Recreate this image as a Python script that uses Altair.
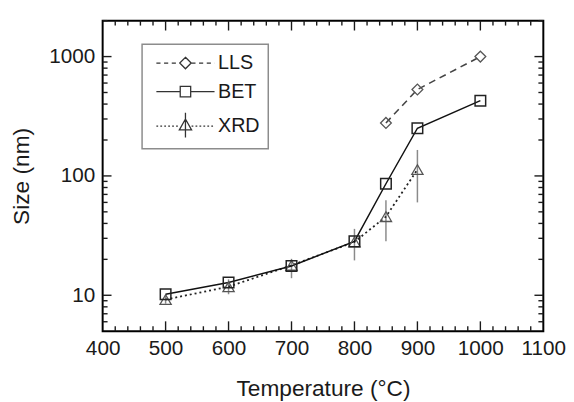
import altair as alt
import pandas as pd

# ---------------- data ----------------
lls_temp = [850, 900, 1000]
lls_size = [278, 530, 1000]

bet_temp = [500, 600, 700, 800, 850, 900, 1000]
bet_size = [10.2, 12.8, 17.6, 28.3, 86, 251, 427]

xrd_temp = [500, 600, 700, 800, 850, 900]
xrd_size = [9.2, 11.8, 17.8, 28.0, 45.6, 113]
xrd_low = [8.5, 10.2, 13.9, 19.6, 28.3, 60]
xrd_high = [10.0, 13.6, 20.2, 36.0, 62.5, 165]

series_names = ["LLS", "BET", "XRD"]

x_major = [400, 500, 600, 700, 800, 900, 1000, 1100]
x_minor = [v for v in range(420, 1100, 20) if v % 100 != 0]
y_major = [10, 100, 1000]
y_minor = [6, 7, 8, 9] + [m * 10 for m in range(2, 10)] + [m * 100 for m in range(2, 10)] + [2000]

lls = pd.DataFrame({"t": lls_temp, "s": lls_size})
bet = pd.DataFrame({"t": bet_temp, "s": bet_size})
xrd = pd.DataFrame({"t": xrd_temp, "s": xrd_size, "lo": xrd_low, "hi": xrd_high})
leg = pd.DataFrame({"series": series_names})
xmaj = pd.DataFrame({"t": x_major[1:-1]})
xmin = pd.DataFrame({"t": x_minor})
ymaj = pd.DataFrame({"s": y_major})
ymin = pd.DataFrame({"s": y_minor})

FONT = "Liberation Sans"
INK = "#1a1a1a"
W, H = 447, 315
XMAJ, XMIN, YMAJ, YMIN = 10, 5, 9, 5

xs = alt.Scale(domain=[400, 1100], nice=False, zero=False)
ys = alt.Scale(type="log", domain=[5, 2000], nice=False)


# ---------------- legend symbol paths (unit = 10 px) ----------------
def dashed(x0, x1, dash, gap):
    parts = []
    x = x0
    while x < x1 - 1e-9:
        e = min(x + dash, x1)
        parts.append(f"M{x:.3f},0L{e:.3f},0")
        x = e + gap
    return "".join(parts)


half = 2.95
p_lls = (dashed(-half, -0.6, 0.42, 0.36) + dashed(0.6, half, 0.42, 0.36)
         + "M0,-0.58L0.58,0L0,0.58L-0.58,0Z")
p_bet = (f"M{-half},0L-0.53,0M0.53,0L{half},0"
         + "M-0.53,-0.53L0.53,-0.53L0.53,0.53L-0.53,0.53Z")
p_xrd = (dashed(-half, -0.62, 0.18, 0.22) + dashed(0.62, half, 0.18, 0.22)
         + "M0,-0.72L0.62,0.38L-0.62,0.38Z" + "M0,-1.35L0,1.15")

# ---------------- axes: labels + titles ----------------
axes_layer = alt.Chart(bet).mark_point(opacity=0).encode(
    x=alt.X("t:Q", scale=xs, axis=alt.Axis(
        orient="bottom", values=x_major, ticks=False, tickSize=0, domain=False, grid=False,
        labelFont=FONT, labelFontSize=21, labelColor=INK, labelPadding=7,
        labelFlush=False, labelOverlap=False, format="d",
        title="Temperature (°C)", titleFont=FONT, titleFontSize=23,
        titleFontWeight="normal", titleColor=INK, titlePadding=19)),
    y=alt.Y("s:Q", scale=ys, axis=alt.Axis(
        orient="left", values=y_major, ticks=False, tickSize=0, domain=False, grid=False,
        labelFont=FONT, labelFontSize=21, labelColor=INK, labelPadding=8,
        labelFlush=False, labelOverlap=False, format="d",
        title="Size (nm)", titleFont=FONT, titleFontSize=23,
        titleFontWeight="normal", titleColor=INK, titlePadding=15)),
)

# ---------------- inside ticks on all four sides ----------------
def xticks(df, length):
    bottom = alt.Chart(df).mark_rule(color=INK, strokeWidth=1.4).encode(
        x=alt.X("t:Q", scale=xs, axis=None),
        y=alt.value(H), y2=alt.value(H - length))
    top = alt.Chart(df).mark_rule(color=INK, strokeWidth=1.4).encode(
        x=alt.X("t:Q", scale=xs, axis=None),
        y=alt.value(0), y2=alt.value(length))
    return [bottom, top]


def yticks(df, length):
    left = alt.Chart(df).mark_rule(color=INK, strokeWidth=1.4).encode(
        y=alt.Y("s:Q", scale=ys, axis=None),
        x=alt.value(0), x2=alt.value(length))
    right = alt.Chart(df).mark_rule(color=INK, strokeWidth=1.4).encode(
        y=alt.Y("s:Q", scale=ys, axis=None),
        x=alt.value(W), x2=alt.value(W - length))
    return [left, right]


tick_layers = xticks(xmaj, XMAJ) + xticks(xmin, XMIN) + yticks(ymaj, YMAJ) + yticks(ymin, YMIN)


def enc(ch):
    return ch.encode(
        x=alt.X("t:Q", scale=xs, axis=None),
        y=alt.Y("s:Q", scale=ys, axis=None),
    )


err = alt.Chart(xrd).mark_rule(color="#8a8a8a", strokeWidth=1.5).encode(
    x=alt.X("t:Q", scale=xs, axis=None),
    y=alt.Y("lo:Q", scale=ys, axis=None),
    y2="hi:Q",
)

lls_line = enc(alt.Chart(lls).mark_line(color="#444", strokeWidth=1.6, strokeDash=[7, 5]))
xrd_line = enc(alt.Chart(xrd).mark_line(color="#222", strokeWidth=1.8, strokeDash=[2, 3]))
bet_line = enc(alt.Chart(bet).mark_line(color="#111", strokeWidth=1.5))

lls_pts = enc(alt.Chart(lls).mark_point(shape="diamond", size=120, filled=False,
                                        color="#555", strokeWidth=1.3, opacity=1))
xrd_pts = enc(alt.Chart(xrd).mark_point(shape="triangle-up", size=130, filled=False,
                                        color="#555", strokeWidth=1.3, opacity=1))
bet_pts = enc(alt.Chart(bet).mark_point(shape="square", size=115, filled=False,
                                        color="#222", strokeWidth=1.5, opacity=1))

legend_layer = alt.Chart(leg).mark_point(filled=False, color="#333", strokeWidth=1.3,
                                         opacity=1).encode(
    shape=alt.Shape(
        "series:N",
        scale=alt.Scale(domain=series_names, range=[p_lls, p_bet, p_xrd]),
        legend=alt.Legend(
            orient="none", legendX=40, legendY=24, title=None,
            strokeColor="#8c8c8c", fillColor="white",
            padding=8, symbolSize=400, symbolStrokeWidth=1.3,
            symbolStrokeColor="#333", symbolFillColor="transparent",
            labelFont=FONT, labelFontSize=20, labelColor=INK,
            labelOffset=22, rowPadding=8, symbolOffset=25,
        ),
    )
).transform_filter("false")

chart = alt.layer(
    axes_layer, *tick_layers,
    err, lls_line, xrd_line, bet_line,
    lls_pts, xrd_pts, bet_pts,
    legend_layer,
).resolve_axis(
    x="independent", y="independent"
).properties(
    width=W, height=H,
    padding={"left": 96, "top": 10, "right": 23, "bottom": 70},
    autosize=alt.AutoSizeParams(type="none"),
    background="white",
).configure_view(
    stroke="black", strokeWidth=2
).configure_legend(strokeWidth=1.5)

chart.save("out.html", embed_options={"renderer": "svg", "actions": False})
